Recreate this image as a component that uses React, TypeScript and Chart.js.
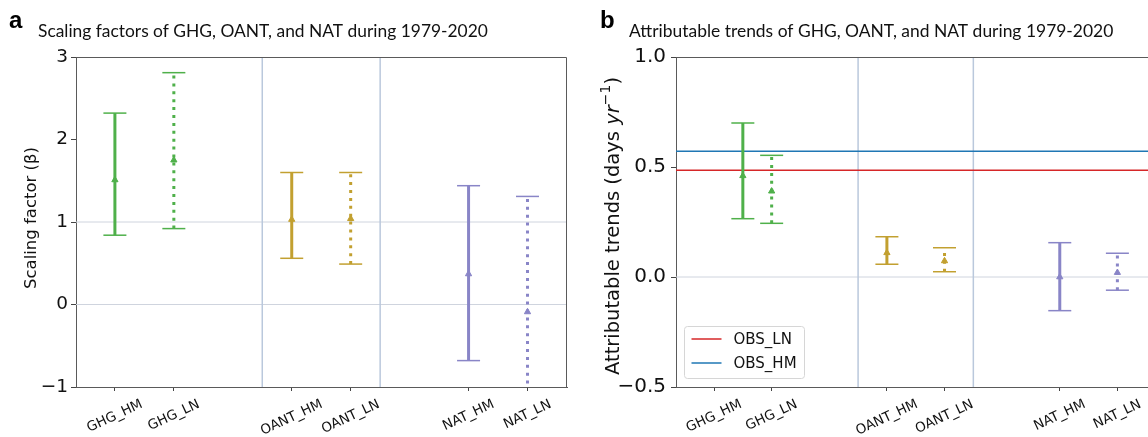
import React, { useEffect, useRef } from 'react';
import { Chart, registerables } from 'chart.js';

Chart.register(...registerables);

// ---------- data ----------
const categories = ['GHG_HM', 'GHG_LN', 'OANT_HM', 'OANT_LN', 'NAT_HM', 'NAT_LN'];
const tickPositions = [0, 1, 3, 4, 6, 7];
const groupSeparators = [2.5, 4.5];

// panel a: scaling factors
const scalingX = [0, 1, 3, 4, 6, 7];
const scalingBest = [1.51, 1.75, 1.03, 1.04, 0.37, -0.09];
const scalingLow = [0.84, 0.92, 0.56, 0.49, -0.68, -1.15];
const scalingHigh = [2.32, 2.81, 1.6, 1.6, 1.44, 1.31];
const scalingRefLines = [0, 1];
const yTicksA = [-1, 0, 1, 2, 3];

// panel b: attributable trends
const trendX = [0.5, 1, 3, 4, 6, 7];
const trendBest = [0.46, 0.39, 0.11, 0.073, 0.0, 0.02];
const trendLow = [0.265, 0.244, 0.058, 0.024, -0.153, -0.06];
const trendHigh = [0.7, 0.553, 0.183, 0.133, 0.156, 0.108];
const trendRefLines = [0];
const yTicksB = [-0.5, 0, 0.5, 1.0];
const obsLabels = ['OBS_LN', 'OBS_HM'];
const obsValues = [0.485, 0.572];

// ---------- styles ----------
const GREEN = '#4fb04a';
const GOLD = '#c2a030';
const PURPLE = '#8985c7';
const catColors = [GREEN, GREEN, GOLD, GOLD, PURPLE, PURPLE];
const catDotted = [false, true, false, true, false, true];
const obsColors = ['#d62728', '#1f77b4'];
const SEP_COLOR = '#bac8dc';
const REF_COLOR = '#cfd4de';
const FRAME = '#5a5a5a';
const X_MIN = -0.66;
const X_MAX = 7.67;
const TEXT_FONT = 'Lato, "Open Sans", sans-serif';
const TICK_FONT = '"DejaVu Sans", sans-serif';

const minus = (s: string) => s.replace('-', '\u2212');

function buildDatasets(
  xs: number[], best: number[], lo: number[], hi: number[], refLines: number[],
  yMin: number, yMax: number, withObs: boolean
) {
  const ds: any[] = [];
  refLines.forEach((v) => {
    ds.push({
      label: 'ref', data: [{ x: X_MIN, y: v }, { x: X_MAX, y: v }], showLine: true,
      borderColor: REF_COLOR, borderWidth: 1, pointRadius: 0, order: 20,
    });
  });
  groupSeparators.forEach((v) => {
    ds.push({
      label: 'sep', data: [{ x: v, y: yMin }, { x: v, y: yMax }], showLine: true,
      borderColor: SEP_COLOR, borderWidth: 1.5, pointRadius: 0, order: 19,
    });
  });
  if (withObs) {
    obsValues.forEach((v, i) => {
      ds.push({
        label: obsLabels[i], data: [{ x: X_MIN, y: v }, { x: X_MAX, y: v }], showLine: true,
        borderColor: obsColors[i], backgroundColor: obsColors[i], borderWidth: 1.5, pointRadius: 0, order: 10,
      });
    });
  }
  xs.forEach((x, i) => {
    const c = catColors[i];
    ds.push({
      label: categories[i], data: [{ x, y: lo[i] }, { x, y: hi[i] }], showLine: true,
      borderColor: c, backgroundColor: c, borderWidth: 3,
      borderDash: catDotted[i] ? [3, 4.9] : [], borderCapStyle: 'butt',
      pointStyle: 'line', pointRadius: 11.5, pointHoverRadius: 11.5,
      pointBorderWidth: 1.5, pointBorderColor: c, pointBackgroundColor: c, order: 2,
    });
    ds.push({
      label: categories[i] + ' best', data: [{ x, y: best[i] }], showLine: false,
      pointStyle: 'triangle', pointRadius: 3.6, pointHoverRadius: 3.6,
      pointBackgroundColor: c, pointBorderColor: c, pointBorderWidth: 1, order: 1,
    });
  });
  return ds;
}

function decorPlugin(opts: {
  letter: string; title: string; titleX: number; titleWidth: number;
  ylabel: { text: string; font: string; dy?: number }[]; ylabelX: number; ylabelY: number;
  legend: boolean;
}) {
  return {
    id: 'decor',
    afterDraw(chart: any) {
      const ctx = chart.ctx as CanvasRenderingContext2D;
      const ca = chart.chartArea;
      ctx.save();
      // frame top & right
      ctx.strokeStyle = FRAME;
      ctx.lineWidth = 1;
      ctx.beginPath();
      ctx.moveTo(Math.round(ca.left), Math.round(ca.top) + 0.5);
      ctx.lineTo(Math.round(ca.right) - 0.5, Math.round(ca.top) + 0.5);
      ctx.lineTo(Math.round(ca.right) - 0.5, Math.round(ca.bottom));
      ctx.stroke();

      // panel letter
      ctx.fillStyle = '#000';
      ctx.textAlign = 'left';
      ctx.textBaseline = 'alphabetic';
      ctx.font = 'bold 24px "Liberation Sans", Arial, sans-serif';
      ctx.fillText(opts.letter, opts.titleX - 29, 28);

      // title, fitted to measured width
      ctx.font = `16px ${TEXT_FONT}`;
      const w16 = ctx.measureText(opts.title).width;
      const size = Math.min(18, (16 * opts.titleWidth) / w16);
      ctx.font = `${size.toFixed(2)}px ${TEXT_FONT}`;
      ctx.fillStyle = '#111';
      ctx.fillText(opts.title, opts.titleX, 37);

      // y label (rich, rotated)
      ctx.save();
      ctx.translate(opts.ylabelX, opts.ylabelY);
      ctx.rotate(-Math.PI / 2);
      let total = 0;
      opts.ylabel.forEach((s) => { ctx.font = s.font; total += ctx.measureText(s.text).width; });
      let x = -total / 2;
      ctx.textBaseline = 'middle';
      ctx.fillStyle = '#111';
      opts.ylabel.forEach((s) => {
        ctx.font = s.font;
        ctx.fillText(s.text, x, s.dy || 0);
        x += ctx.measureText(s.text).width;
      });
      ctx.restore();

      // x tick labels (rotated, centred on tick like matplotlib)
      const xs = chart.scales.x;
      const angle = (25 * Math.PI) / 180;
      ctx.font = `13.5px ${TICK_FONT}`;
      ctx.fillStyle = '#111';
      const h = 13.5 * 1.1;
      xs.ticks.forEach((t: any, i: number) => {
        const label = categories[i];
        const L = ctx.measureText(label).width;
        const bh = L * Math.sin(angle) + h * Math.cos(angle);
        const px = xs.getPixelForValue(t.value);
        const top = ca.bottom + 4 + 6;
        ctx.save();
        ctx.translate(px, top + bh / 2);
        ctx.rotate(-angle);
        ctx.textAlign = 'center';
        ctx.textBaseline = 'middle';
        ctx.fillText(label, 0, 0);
        ctx.restore();
      });

      // legend
      if (opts.legend) {
        const bx = ca.left + 8.5;
        const bw = 120;
        const bhh = 52;
        const by = ca.bottom - 9 - bhh + 0.5;
        ctx.fillStyle = 'rgba(255,255,255,0.85)';
        ctx.strokeStyle = '#d6d6d6';
        ctx.lineWidth = 1;
        ctx.beginPath();
        (ctx as any).roundRect(bx, by, bw, bhh, 3);
        ctx.fill();
        ctx.stroke();
        ctx.font = `15px ${TICK_FONT}`;
        ctx.textAlign = 'left';
        ctx.textBaseline = 'middle';
        obsLabels.forEach((lab, i) => {
          const yy = by + 12.5 + i * 24;
          ctx.strokeStyle = obsColors[i];
          ctx.lineWidth = 1.5;
          ctx.beginPath();
          ctx.moveTo(bx + 7, yy);
          ctx.lineTo(bx + 37, yy);
          ctx.stroke();
          ctx.fillStyle = '#111';
          ctx.fillText(lab, bx + 49, yy + 1);
        });
      }
      ctx.restore();
    },
  };
}

function makeConfig(p: {
  xs: number[]; best: number[]; lo: number[]; hi: number[]; refLines: number[];
  yMin: number; yMax: number; yTicks: number[]; fmt: (v: number) => string; tickSize: number; tickPad: number;
  yAxisWidth: number; rightPad: number; withObs: boolean; plugin: any;
}) {
  return {
    type: 'scatter',
    data: { datasets: buildDatasets(p.xs, p.best, p.lo, p.hi, p.refLines, p.yMin, p.yMax, p.withObs) },
    options: {
      animation: false,
      responsive: false,
      devicePixelRatio: 1,
      events: [],
      layout: { padding: { top: 57, left: 0, right: p.rightPad, bottom: 0 } },
      plugins: { legend: { display: false }, tooltip: { enabled: false }, title: { display: false } },
      scales: {
        x: {
          type: 'linear', min: X_MIN, max: X_MAX,
          afterBuildTicks: (s: any) => { s.ticks = tickPositions.map((v) => ({ value: v })); },
          afterFit: (s: any) => { s.height = 50; },
          ticks: { display: false },
          grid: { drawOnChartArea: false, drawTicks: true, tickLength: 4, tickColor: '#444', tickWidth: 1 },
          border: { display: true, color: FRAME, width: 1 },
        },
        y: {
          type: 'linear', min: p.yMin, max: p.yMax,
          afterBuildTicks: (s: any) => { s.ticks = p.yTicks.map((v) => ({ value: v })); },
          afterFit: (s: any) => { s.width = p.yAxisWidth; },
          ticks: {
            font: { family: TICK_FONT, size: p.tickSize }, color: '#111', padding: p.tickPad,
            callback: (v: any) => p.fmt(Number(v)),
          },
          grid: { drawOnChartArea: false, drawTicks: true, tickLength: 5, tickColor: '#444', tickWidth: 1 },
          border: { display: true, color: FRAME, width: 1 },
        },
      },
    },
    plugins: [p.plugin],
  };
}

function Panel({ cfg, left, width }: { cfg: () => any; left: number; width: number }) {
  const ref = useRef<HTMLCanvasElement | null>(null);
  useEffect(() => {
    if (!ref.current) return;
    const chart = new Chart(ref.current, cfg());
    return () => chart.destroy();
  }, []);
  return (
    <canvas
      ref={ref}
      width={width}
      height={437}
      style={{ position: 'absolute', left, top: 0, width, height: 437 }}
    />
  );
}

export default function App() {
  const cfgA = () =>
    makeConfig({
      xs: scalingX, best: scalingBest, lo: scalingLow, hi: scalingHigh, refLines: scalingRefLines,
      yMin: -1, yMax: 3, yTicks: yTicksA, fmt: (v) => minus(String(v)), tickSize: 18.5, tickPad: 3,
      yAxisWidth: 76, rightPad: 7, withObs: false,
      plugin: decorPlugin({
        letter: 'a', title: 'Scaling factors of GHG, OANT, and NAT during 1979-2020',
        titleX: 38, titleWidth: 450,
        ylabel: [{ text: 'Scaling factor (\u03B2)', font: `16.5px ${TICK_FONT}` }],
        ylabelX: 32, ylabelY: 218, legend: false,
      }),
    });
  const cfgB = () =>
    makeConfig({
      xs: trendX, best: trendBest, lo: trendLow, hi: trendHigh, refLines: trendRefLines,
      yMin: -0.5, yMax: 1.0, yTicks: yTicksB, fmt: (v) => minus(v.toFixed(1)), tickSize: 20, tickPad: 5,
      yAxisWidth: 96, rightPad: 24, withObs: true,
      plugin: decorPlugin({
        letter: 'b', title: 'Attributable trends of GHG, OANT, and NAT during 1979-2020',
        titleX: 49, titleWidth: 485,
        ylabel: [
          { text: 'Attributable trends (days ', font: `19.5px ${TICK_FONT}` },
          { text: 'yr', font: `italic 19.5px ${TICK_FONT}` },
          { text: '\u22121', font: `14px ${TICK_FONT}`, dy: -8 },
          { text: ')', font: `19.5px ${TICK_FONT}` },
        ],
        ylabelX: 34, ylabelY: 226, legend: true,
      }),
    });
  return (
    <div style={{ position: 'absolute', left: 0, top: 0, width: 1148, height: 437, overflow: 'hidden', background: '#fff' }}>
      <Panel cfg={cfgA} left={0} width={580} />
      <Panel cfg={cfgB} left={580} width={600} />
    </div>
  );
}
